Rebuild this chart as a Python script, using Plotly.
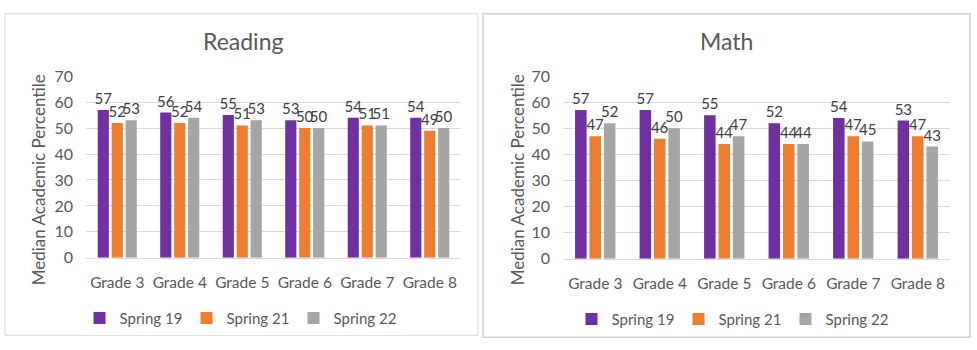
import plotly.graph_objects as go

grades = ["Grade 3", "Grade 4", "Grade 5", "Grade 6", "Grade 7", "Grade 8"]
series_names = ["Spring 19", "Spring 21", "Spring 22"]
reading_s19 = [57, 56, 55, 53, 54, 54]
reading_s21 = [52, 52, 51, 50, 51, 49]
reading_s22 = [53, 54, 53, 50, 51, 50]
math_s19 = [57, 57, 55, 52, 54, 53]
math_s21 = [47, 46, 44, 44, 47, 47]
math_s22 = [52, 50, 47, 44, 45, 43]
colors = ["#7030A0", "#ED7D31", "#A5A5A5"]
yticks = [0, 10, 20, 30, 40, 50, 60, 70]

W, H = 977, 350
FONT = "Lato, Open Sans, sans-serif"
TXT = "#595959"

fig = go.Figure()

panels = [
    (reading_s19, reading_s21, reading_s22, "x", "y", "legend"),
    (math_s19, math_s21, math_s22, "x2", "y2", "legend2"),
]
for (a, b, c, xa, ya, lg) in panels:
    for name, vals, col in zip(series_names, [a, b, c], colors):
        fig.add_trace(go.Bar(
            x=grades, y=vals, name=name, marker_color=col, marker_line_width=0,
            text=[str(v) for v in vals], textposition="outside", cliponaxis=False,
            constraintext="none",
            textfont=dict(family=FONT, size=15, color="#404040"),
            xaxis=xa, yaxis=ya, legend=lg,
        ))

axis_common = dict(showgrid=False, showline=True, linecolor="#D9D9D9", linewidth=1,
                   tickfont=dict(family=FONT, size=15.5, color=TXT), ticks="",
                   ticklabelstandoff=11)
yaxis_common = dict(range=[0, 70], tickvals=yticks, showgrid=True, gridcolor="#D9D9D9",
                    gridwidth=1, zeroline=False, showline=False, ticks="",
                    tickfont=dict(family=FONT, size=16, color=TXT), ticklabelstandoff=12)

legend_common = dict(orientation="h", xanchor="center", yanchor="middle",
                     font=dict(family=FONT, size=15, color=TXT), itemwidth=30,
                     traceorder="normal", entrywidth=62, entrywidthmode="pixels")

fig.update_layout(
    width=W, height=H, margin=dict(l=0, r=0, t=0, b=0),
    paper_bgcolor="white", plot_bgcolor="white",
    barmode="group", bargap=0.33, bargroupgap=0.2,
    font=dict(family=FONT, color=TXT),
    xaxis=dict(domain=[86 / W, 461 / W], anchor="y", **axis_common),
    yaxis=dict(domain=[1 - 262 / H, 1 - 70 / H], anchor="x", **yaxis_common),
    xaxis2=dict(domain=[563 / W, 950 / W], anchor="y2", **axis_common),
    yaxis2=dict(domain=[1 - 263 / H, 1 - 70 / H], anchor="x2", **yaxis_common),
    legend=dict(x=240 / W, y=1 - 326 / H, **legend_common),
    legend2=dict(x=732 / W, y=1 - 327 / H, **legend_common),
    showlegend=True,
)

annotations = [
    dict(text="Reading", x=243 / W, y=1 - 33 / H, xref="paper", yref="paper", showarrow=False,
         font=dict(family=FONT, size=23, color=TXT), xanchor="center", yanchor="middle"),
    dict(text="Math", x=726 / W, y=1 - 33 / H, xref="paper", yref="paper", showarrow=False,
         font=dict(family=FONT, size=23, color=TXT), xanchor="center", yanchor="middle"),
    dict(text="Median Academic Percentile", x=38 / W, y=1 - 180 / H, xref="paper", yref="paper",
         showarrow=False, textangle=-90, font=dict(family=FONT, size=17, color=TXT),
         xanchor="center", yanchor="middle"),
    dict(text="Median Academic Percentile", x=517 / W, y=1 - 180 / H, xref="paper", yref="paper",
         showarrow=False, textangle=-90, font=dict(family=FONT, size=17, color=TXT),
         xanchor="center", yanchor="middle"),
]
fig.update_layout(annotations=annotations)

shapes = [
    dict(type="rect", xref="paper", yref="paper", x0=5 / W, x1=478 / W, y0=1 - 344 / H, y1=1 - 4 / H,
         line=dict(color="#D9D9D9", width=1), fillcolor="rgba(0,0,0,0)"),
    dict(type="rect", xref="paper", yref="paper", x0=483 / W, x1=970 / W, y0=1 - 346 / H, y1=1 - 4 / H,
         line=dict(color="#D0D0D0", width=1.5), fillcolor="rgba(0,0,0,0)"),
]
fig.update_layout(shapes=shapes)

fig.write_html("out.html")
